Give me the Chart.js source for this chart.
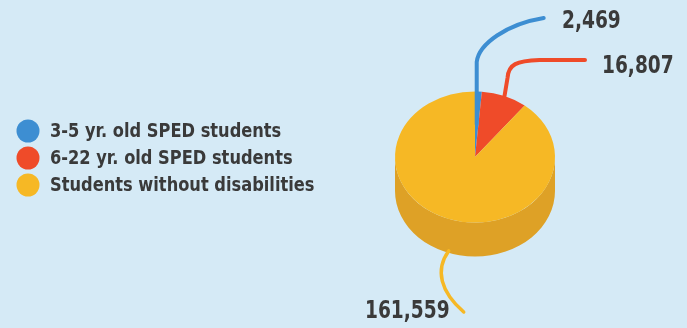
<!DOCTYPE html>
<html>
<head>
<meta charset="utf-8">
<script src="https://cdn.jsdelivr.net/npm/chart.js@4"></script>
<style>
body{margin:0;background:#d5eaf6;}
canvas{display:block;}
</style>
</head>
<body>
<canvas id="myChart" width="687" height="328"></canvas>
<script>
var labels = ["3-5 yr. old SPED students", "6-22 yr. old SPED students", "Students without disabilities"];
var students = [2469, 16807, 161559];
var valueLabels = ["2,469", "16,807", "161,559"];

var colors = ["#3d8ed2", "#ef4b29", "#f6b825"];
var sideColors = ["#2f74b0", "#c93c1f", "#dea126"];

// how flat the pie looks, and how thick the side is
var tilt = 0.82;
var depth = 34;
var fontFamily = "'DejaVu Sans Condensed', 'DejaVu Sans', sans-serif";

function arcPoint(el, f, drop) {
  var mid = (el.startAngle + el.endAngle) / 2;
  return {
    x: el.x + Math.cos(mid) * el.outerRadius * f,
    y: el.y + Math.sin(mid) * el.outerRadius * f * tilt + (drop || 0)
  };
}

// narrow text a bit, the original font is condensed
function narrowText(ctx, t, x, y, sx) {
  ctx.save();
  ctx.translate(x, y);
  ctx.scale(sx, 1);
  ctx.fillText(t, 0, 0);
  ctx.restore();
}

var pie3d = {
  id: 'pie3d',
  beforeDatasetsDraw: function(chart) {
    var ctx = chart.ctx;
    var arcs = chart.getDatasetMeta(0).data;
    var cx = arcs[0].x, cy = arcs[0].y, r = arcs[0].outerRadius;
    ctx.save();
    ctx.translate(cx, cy);
    ctx.scale(1, tilt);
    ctx.translate(-cx, -cy);
    // side of the pie, only the front half shows
    arcs.forEach(function(el, i) {
      [0, Math.PI * 2].forEach(function(k) {
        var lo = Math.max(el.startAngle, k);
        var hi = Math.min(el.endAngle, k + Math.PI);
        if (lo >= hi) return;
        ctx.beginPath();
        ctx.arc(cx, cy + depth / tilt, r, lo, hi);
        ctx.arc(cx, cy, r, hi, lo, true);
        ctx.closePath();
        ctx.fillStyle = sideColors[i];
        ctx.fill();
      });
    });
  },
  afterDatasetsDraw: function(chart) {
    chart.ctx.restore();
  },
  afterDraw: function(chart) {
    var ctx = chart.ctx;
    var arcs = chart.getDatasetMeta(0).data;
    ctx.save();

    // legend
    ctx.font = "bold 19px " + fontFamily;
    ctx.textBaseline = "middle";
    labels.forEach(function(t, i) {
      var y = 131 + i * 27;
      ctx.beginPath();
      ctx.arc(28, y, 11.5, 0, Math.PI * 2);
      ctx.fillStyle = colors[i];
      ctx.fill();
      ctx.fillStyle = "#3a3a3a";
      narrowText(ctx, t, 50, y + 1, 0.95);
    });

    // leader lines
    ctx.lineCap = "round";
    ctx.lineJoin = "round";
    ctx.lineWidth = 4;

    var a = arcPoint(arcs[0], 0.5);
    ctx.strokeStyle = colors[0];
    ctx.beginPath();
    ctx.moveTo(a.x, a.y);
    ctx.lineTo(a.x, 62);
    ctx.bezierCurveTo(a.x + 2, 44, a.x + 30, 24, a.x + 67, 18);
    ctx.stroke();

    a = arcPoint(arcs[1], 1);
    ctx.strokeStyle = colors[1];
    ctx.beginPath();
    ctx.moveTo(a.x, a.y);
    ctx.lineTo(a.x + 3, 78);
    ctx.bezierCurveTo(a.x + 4, 64, a.x + 12, 61, a.x + 35, 60);
    ctx.lineTo(585, 60);
    ctx.stroke();

    a = arcPoint(arcs[2], 1, depth);
    ctx.strokeStyle = colors[2];
    ctx.lineWidth = 3.5;
    ctx.beginPath();
    ctx.moveTo(a.x, a.y - 2);
    ctx.bezierCurveTo(a.x - 14, 270, a.x - 8, 292, a.x + 15, 312);
    ctx.stroke();

    // values
    ctx.font = "bold 24px " + fontFamily;
    ctx.fillStyle = "#3a3a3a";
    narrowText(ctx, valueLabels[0], 562, 22, 0.86);
    narrowText(ctx, valueLabels[1], 602, 67, 0.86);
    narrowText(ctx, valueLabels[2], 365, 312, 0.86);
    ctx.restore();
  }
};

var ctx = document.getElementById("myChart");
var myChart = new Chart(ctx, {
  type: 'pie',
  data: {
    labels: labels,
    datasets: [{
      data: students,
      backgroundColor: colors,
      borderWidth: 0
    }]
  },
  options: {
    responsive: false,
    animation: false,
    events: [],
    layout: { padding: { left: 395, right: 132, top: 77, bottom: 91 } },
    plugins: {
      legend: { display: false },
      tooltip: { enabled: false }
    }
  },
  plugins: [pie3d]
});
</script>
</body>
</html>
